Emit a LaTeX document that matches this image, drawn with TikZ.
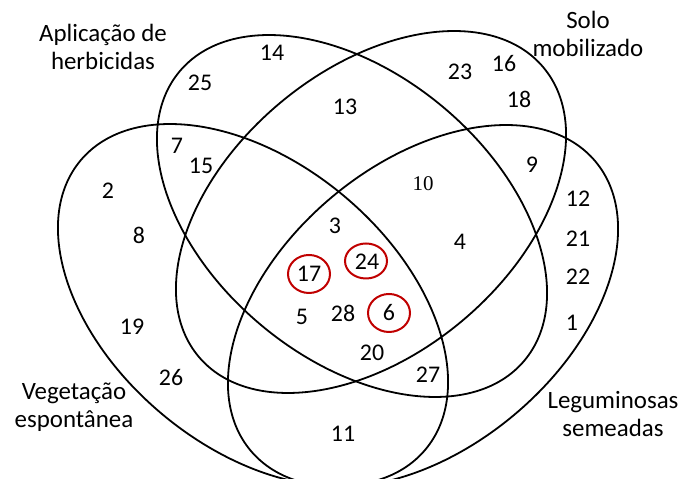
\documentclass[tikz,border=0pt]{standalone}
\usepackage{fontspec}
\setmainfont{Carlito}
\newfontfamily\serifnum{Liberation Serif}
\usetikzlibrary{shapes.geometric}
\definecolor{hlred}{RGB}{192,0,0}
\begin{document}
\begin{tikzpicture}[x=1bp,y=1bp,
  setline/.style={draw=black, line width=1.8bp},
  num/.style={font=\fontsize{24}{28}\selectfont, inner sep=0pt},
  sernum/.style={font=\serifnum\fontsize{21}{24}\selectfont, inner sep=0pt},
  lbl/.style={font=\fontsize{25}{29}\selectfont, align=center, inner sep=0pt, anchor=base},
  hl/.style={ellipse, draw=hlred, line width=2bp, minimum width=42bp, minimum height=38bp, inner sep=0pt}]
\useasboundingbox (0,0) rectangle (683,479);
\clip (0,0) rectangle (683,479);
% centres of the four sets
\coordinate (cV) at (253,174);
\coordinate (cL) at (423,173);
\coordinate (cH) at (352,263);
\coordinate (cS) at (371,267);
\draw[setline, rotate around={-40:(cV)}] (cV) ellipse [x radius=225, y radius=142];
\draw[setline, rotate around={40:(cL)}] (cL) ellipse [x radius=225, y radius=142];
\draw[setline, rotate around={-40:(cH)}] (cH) ellipse [x radius=225, y radius=142];
\draw[setline, rotate around={40:(cS)}] (cS) ellipse [x radius=225, y radius=142];
% set labels (anchor = baseline of the last line)
\node[lbl] (lH) at (103,409) {Aplicação de\\herbicidas};
\node[lbl] (lS) at (588,422) {Solo\\mobilizado};
\node[lbl] (lV) at (74,51) {Vegetação\\espontânea};
\node[lbl] (lL) at (613,42) {Leguminosas\\semeadas};
% numbers
\node[num] (n14) at (272,426) {14};
\node[num] (n25) at (200,396) {25};
\node[num] (n13) at (345,372) {13};
\node[num] (n23) at (460,407) {23};
\node[num] (n16) at (504,415) {16};
\node[num] (n18) at (519,380) {18};
\node[num] (n7) at (177,333) {7};
\node[num] (n15) at (201,313) {15};
\node[num] (n9) at (532,314) {9};
\node[sernum] (n10) at (423,295) {10};
\node[num] (n2) at (108,288) {2};
\node[num] (n8) at (139,244) {8};
\node[num] (n12) at (578,280) {12};
\node[num] (n3) at (335,253) {3};
\node[num] (n4) at (460,237) {4};
\node[num] (n21) at (578,240) {21};
\node[num] (n24) at (367,217) {24};
\node[num] (n17) at (309,205) {17};
\node[num] (n22) at (578,202) {22};
\node[num] (n5) at (302,162) {5};
\node[num] (n28) at (343,166) {28};
\node[num] (n6) at (389,166) {6};
\node[num] (n19) at (132,152) {19};
\node[num] (n1) at (572,156) {1};
\node[num] (n20) at (372,126) {20};
\node[num] (n26) at (171,101) {26};
\node[num] (n27) at (428,104) {27};
\node[num] (n11) at (343,45) {11};
% highlighted species
\node[hl, minimum height=35bp] (h24) at (366,218) {};
\node[hl] (h17) at (309,205) {};
\node[hl] (h6) at (389,166) {};
\end{tikzpicture}
\end{document}
